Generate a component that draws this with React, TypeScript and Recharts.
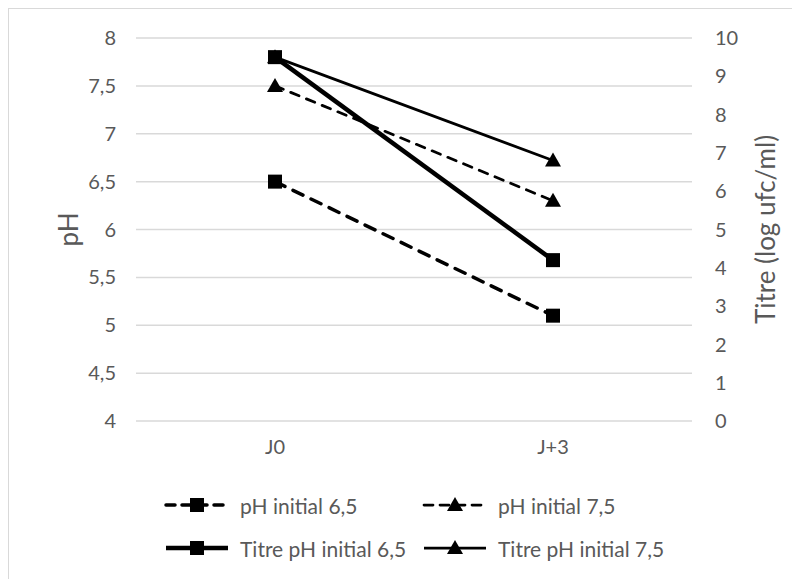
import { LineChart, Line, XAxis, YAxis, CartesianGrid, Legend } from 'recharts';

const days = ['J0', 'J+3'];
const phInitial65 = [6.5, 5.1];
const phInitial75 = [7.5, 6.3];
const titre65 = [9.5, 4.2];
const titre75 = [9.5, 6.8];

const phTicks = [4, 4.5, 5, 5.5, 6, 6.5, 7, 7.5, 8];
const titreTicks = [0, 1, 2, 3, 4, 5, 6, 7, 8, 9, 10];

const FONT = 'Lato, "Open Sans", sans-serif';
const GREY = '#595959';

const series = [
  { key: 'ph65', name: 'pH initial 6,5', axis: 'left', marker: 'square', width: 3.5, dash: '11 9' },
  { key: 'ph75', name: 'pH initial 7,5', axis: 'left', marker: 'triangle', width: 2.75, dash: '9 8' },
  { key: 't65', name: 'Titre pH initial 6,5', axis: 'right', marker: 'square', width: 4.5, dash: undefined },
  { key: 't75', name: 'Titre pH initial 7,5', axis: 'right', marker: 'triangle', width: 2.75, dash: undefined },
];

const data = days.map((day, i) => ({
  day,
  ph65: phInitial65[i],
  ph75: phInitial75[i],
  t65: titre65[i],
  t75: titre75[i],
}));

function Marker({ cx, cy, shape }: { cx: number; cy: number; shape: string }) {
  if (shape === 'square') {
    return <rect x={cx - 7} y={cy - 7} width={14} height={14} fill="#000" />;
  }
  return <path d={`M${cx},${cy - 8} L${cx + 8},${cy + 6} L${cx - 8},${cy + 6} Z`} fill="#000" />;
}

function LegendIcon({ s }: { s: (typeof series)[number] }) {
  const w = 70;
  return (
    <svg width={w} height={18} style={{ display: 'block' }}>
      <line
        x1={4}
        y1={9}
        x2={w - 4}
        y2={9}
        stroke="#000"
        strokeWidth={s.width}
        strokeDasharray={s.dash ? '9 7' : undefined}
        strokeLinecap={s.dash ? 'round' : 'butt'}
      />
      <Marker cx={w / 2} cy={9} shape={s.marker} />
    </svg>
  );
}

function ChartLegend() {
  const cols = [153, 411];
  const rows = [44, 87];
  return (
    <div style={{ position: 'relative', width: 787, height: 119 }}>
      {series.map((s, i) => (
        <div
          key={s.key}
          style={{
            position: 'absolute',
            left: cols[i % 2],
            top: rows[Math.floor(i / 2)] - 12,
            height: 24,
            display: 'flex',
            alignItems: 'center',
            gap: 8,
            fontFamily: FONT,
            fontSize: 21,
            color: GREY,
            whiteSpace: 'nowrap',
          }}
        >
          <LegendIcon s={s} />
          <span>{s.name}</span>
        </div>
      ))}
    </div>
  );
}

function axisTitle(text: string, dx: number) {
  return (props: any) => {
    const vb = props.viewBox;
    const x = vb.x + dx;
    const y = vb.y + vb.height / 2;
    return (
      <text
        x={x}
        y={y}
        transform={`rotate(-90 ${x} ${y})`}
        textAnchor="middle"
        dominantBaseline="central"
        fill={GREY}
        fontSize={26}
        fontFamily={FONT}
      >
        {text}
      </text>
    );
  };
}

const tickStyle = { fill: GREY, fontSize: 20, fontFamily: FONT };

export default function App() {
  return (
    <div style={{ width: 787, height: 572, border: '1px solid #d9d9d9', background: '#fff' }}>
      <LineChart width={787} height={571} data={data} margin={{ top: 29, right: 0, left: 0, bottom: 0 }}>
        <CartesianGrid vertical={false} yAxisId="left" stroke="#d9d9d9" strokeWidth={1.5} />
        <XAxis
          dataKey="day"
          axisLine={false}
          tickLine={false}
          tickSize={0}
          tickMargin={19}
          height={40}
          padding={{ left: 139, right: 139 }}
          tick={tickStyle}
        />
        <YAxis
          yAxisId="left"
          domain={[4, 8]}
          ticks={phTicks}
          width={127}
          axisLine={false}
          tickLine={false}
          tickSize={0}
          tickMargin={20}
          tick={tickStyle}
          tickFormatter={(v: number) => String(v).replace('.', ',')}
          label={axisTitle('pH', 59)}
        />
        <YAxis
          yAxisId="right"
          orientation="right"
          domain={[0, 10]}
          ticks={titreTicks}
          width={104}
          axisLine={false}
          tickLine={false}
          tickSize={0}
          tickMargin={23}
          tick={tickStyle}
          label={axisTitle('Titre (log ufc/ml)', 73)}
        />
        <Legend verticalAlign="bottom" height={119} wrapperStyle={{ left: 0, width: 787 }} content={() => <ChartLegend />} />
        {series.map((s) => (
          <Line
            key={s.key}
            yAxisId={s.axis}
            dataKey={s.key}
            name={s.name}
            stroke="#000"
            strokeWidth={s.width}
            strokeDasharray={s.dash}
            strokeLinecap={s.dash ? 'round' : 'butt'}
            isAnimationActive={false}
            dot={(p: any) => <Marker key={`${s.key}-${p.index}`} cx={p.cx} cy={p.cy} shape={s.marker} />}
            activeDot={false}
          />
        ))}
      </LineChart>
    </div>
  );
}
